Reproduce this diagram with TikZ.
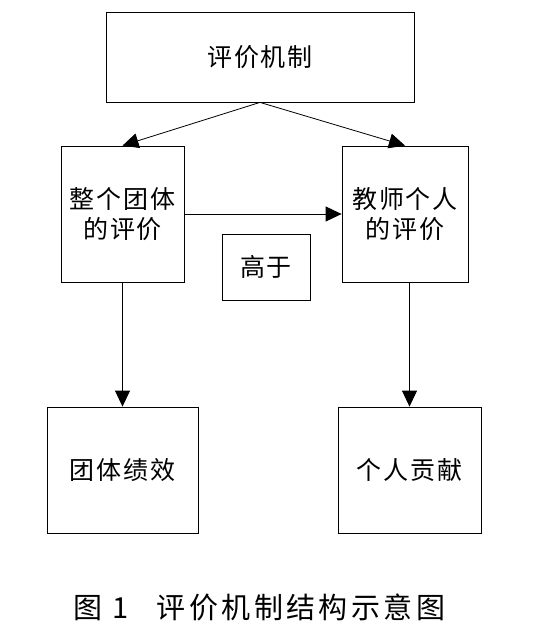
\documentclass[tikz,border=0pt]{standalone}
\usepackage{fontspec}
\newfontfamily\cjk[LetterSpace=7]{Noto Sans CJK SC}
\newfontfamily\cjkcap[LetterSpace=12]{Noto Sans CJK SC}
\usetikzlibrary{arrows.meta}
\tikzset{
	box/.style={draw, line width=0.8pt, inner sep=0pt, align=center, font=\cjk\fontsize{25}{30}\selectfont},
	arr/.style={line width=0.8pt, -{Triangle[length=16pt,width=15pt]}}
}

\begin{document}
\begin{tikzpicture}[x=1pt,y=-1pt]
		\useasboundingbox (0,0) rectangle (534,643);
		\node (top)[box, minimum width=308pt, minimum height=90pt] at (260,57) {评价机制};
		%
		\node (team)[box, minimum width=123pt, minimum height=136pt] at (122.5,214) {整个团体\\的评价};
		\node (teacher)[box, minimum width=126pt, minimum height=136pt] at (405,214) {教师个人\\的评价};
		\node (higher)[box, minimum width=88pt, minimum height=66pt] at (266,267) {高于};
		%
		\node (perf)[box, minimum width=151pt, minimum height=126pt] at (122.5,470) {团体绩效};
		\node (contrib)[box, minimum width=143pt, minimum height=126pt] at (409.5,470) {个人贡献};
		%
		\draw [arr](top.south)--(team.north);
		\draw [arr](top.south)--(teacher.north);
		\draw [arr](team.east)--(teacher.west);
		\draw [arr](team.south)--(perf.north);
		\draw [arr](contrib.north |- teacher.south)--(contrib.north);
		%
		\node (caption)[anchor=west, font=\cjkcap\fontsize{29}{30}\selectfont] at (70,607) {图 1\hspace{28pt}评价机制结构示意图};
	\end{tikzpicture}
\end{document}
